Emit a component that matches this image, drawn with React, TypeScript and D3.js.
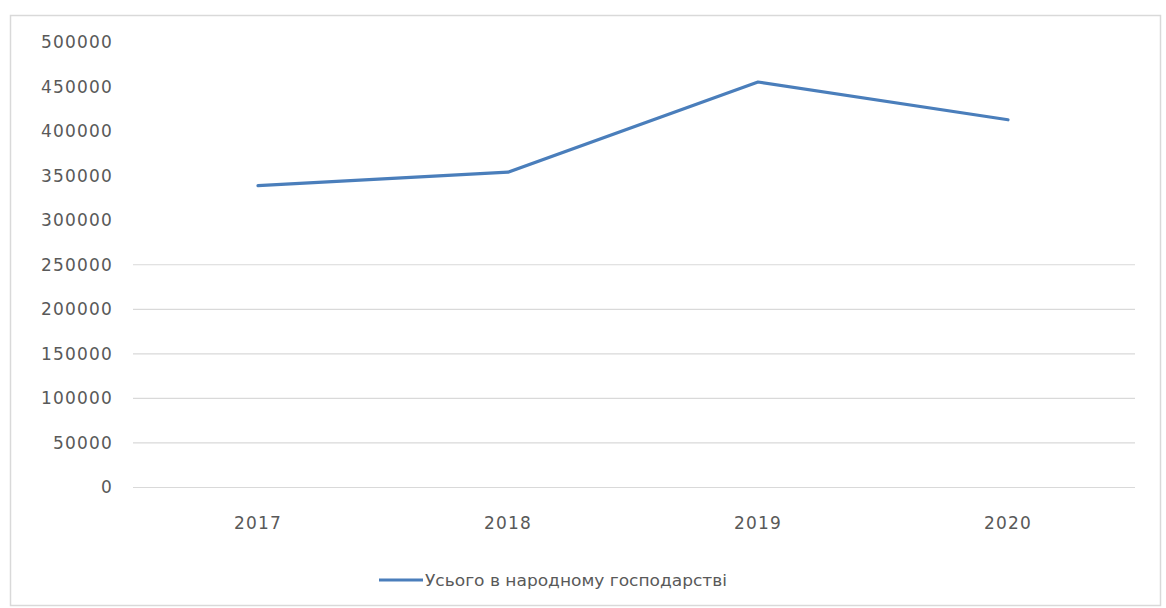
import React from "react";
import * as d3 from "d3";

const years = ["2017", "2018", "2019", "2020"];
const values = [338900, 353900, 455100, 412700];
const yTicks = [0, 50000, 100000, 150000, 200000, 250000, 300000, 350000, 400000, 450000, 500000];
const gridTicks = [0, 50000, 100000, 150000, 200000, 250000];
const seriesName = "Усього в народному господарстві";

export default function App() {
  const W = 1166, H = 608;
  const x = d3.scaleBand<string>().domain(years).range([133, 1133]);
  const y = d3.scaleLinear().domain([0, 500000]).range([487.5, 42]);
  const line = d3.line<number>()
    .x((_, i) => (x(years[i]) as number) + x.bandwidth() / 2)
    .y((d) => y(d));
  const font = "'DejaVu Sans', sans-serif";
  const textColor = "#595959";
  return (
    <svg width={W} height={H} style={{ position: "absolute", left: 0, top: 0, background: "#fff" }}>
      <rect x={10.5} y={15.5} width={1150} height={590} fill="#fff" stroke="#d9d9d9" strokeWidth={1.5} />
      {gridTicks.map((t) => (
        <line key={t} x1={133} x2={1135} y1={y(t)} y2={y(t)} stroke="#d9d9d9" strokeWidth={1.2} />
      ))}
      {yTicks.map((t) => (
        <text key={t} x={113} y={y(t)} dy="0.35em" textAnchor="end" fontFamily={font} fontSize={17} letterSpacing={1.2} fill={textColor}>
          {t}
        </text>
      ))}
      {years.map((yr) => (
        <text key={yr} x={(x(yr) as number) + x.bandwidth() / 2} y={523} dy="0.35em" textAnchor="middle" fontFamily={font} fontSize={17} letterSpacing={1.2} fill={textColor}>
          {yr}
        </text>
      ))}
      <path d={line(values) || ""} fill="none" stroke="#4a7ebb" strokeWidth={3.2} strokeLinejoin="round" strokeLinecap="round" />
      <line x1={379} x2={423} y1={580} y2={580} stroke="#4a7ebb" strokeWidth={3.2} />
      <text x={425} y={580} dy="0.35em" fontFamily={font} fontSize={16} fill={textColor} textLength={302} lengthAdjust="spacingAndGlyphs">
        {seriesName}
      </text>
    </svg>
  );
}
